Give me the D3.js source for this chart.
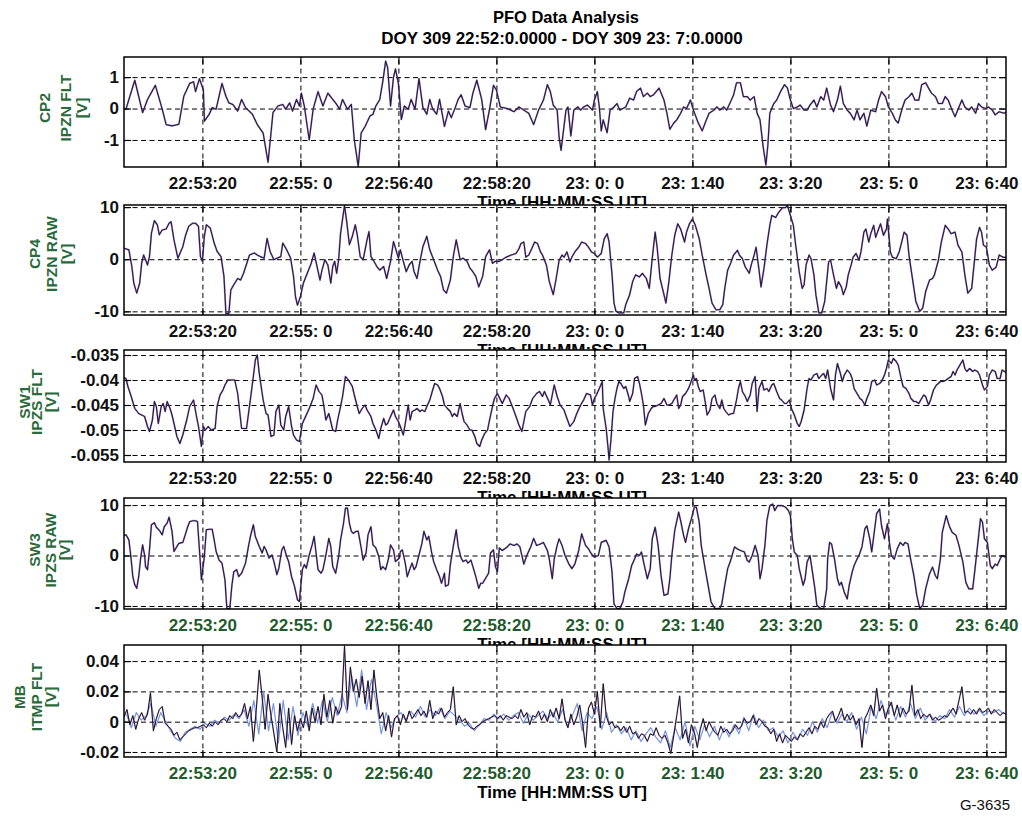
<!DOCTYPE html>
<html>
<head>
<meta charset="utf-8">
<title>PFO Data Analysis</title>
<script src="https://d3js.org/d3.v7.min.js"></script>
<style>
  html, body { margin: 0; padding: 0; background: #ffffff; }
  svg text { white-space: pre; }
</style>
</head>
<body>
<svg id="chart" width="1022" height="816"></svg>
<script>
// ---- time axis (seconds after 22:52:00) ----
const tickSeconds = [80, 180, 280, 380, 480, 580, 680, 780, 880];
const tickLabels = ["22:53:20", "22:55: 0", "22:56:40", "22:58:20", "23: 0: 0", "23: 1:40", "23: 3:20", "23: 5: 0", "23: 6:40"];

// ---- y tick values per panel ----
const cp2Ticks = [1, 0, -1];
const cp4Ticks = [10, 0, -10];
const sw1Ticks = [-0.035, -0.04, -0.045, -0.05, -0.055];
const sw3Ticks = [10, 0, -10];
const mbTicks = [0.04, 0.02, 0, -0.02];

// ---- CP2 IPZN FLT [V] ----
const cp2Seconds = [0,2,11,19,24,32,39,43,49,56,61,67,71,73,77,81,82,87,90,94,
100,104,107,111,116,120,124,131,136,142,147,150,152,157,162,165,169,172,176,179,
181,184,189,193,198,203,208,213,217,220,223,228,232,235,239,242,246,251,254,257,
261,264,267,269,272,275,277,280,283,286,290,293,297,301,305,309,312,315,319,322,
327,331,334,338,341,344,348,353,356,360,365,369,373,377,380,
384,391,398,403,408,413,418,423,428,432,435,438,442,444,446,449,451,453,456,459,
463,466,469,473,478,480,483,485,487,489,493,496,500,503,506,512,516,520,523,527,
530,534,537,540,546,551,554,557,561,564,568,571,574,578,581,586,590,593,597,602,
605,608,612,615,619,622,625,629,632,636,639,643,646,649,652,655,657,659,663,666,
670,674,677,680,683,687,690,694,697,700,704,707,711,714,717,721,724,728,731,734,
738,741,745,748,751,755,758,762,767,770,773,777,780,784,787,790,794,797,801,804,
807,811,814,818,821,824,828,831,835,838,841,845,848,852,855,858,862,865,869,872,
875,879,882,886,889,893,898,900];
const cp2Volts = [0,-0.02,0.90,-0.13,0.29,0.74,-0.02,-0.51,-0.55,-0.50,0.39,0.80,0.85,0.54,0.95,0.59,-0.40,-0.18,0.03,-0.02,
0.80,0.39,0.18,0.13,-0.08,0.29,0.03,-0.18,-0.51,-0.78,-1.71,-0.78,-0.13,0.08,0.13,-0.02,0.18,-0.08,0.29,0.08,
0.49,0.08,-1.00,-0.02,0.54,0.08,0.49,0.29,0.13,-0.02,0.29,-0.02,0.13,-1.00,-1.84,-0.78,-0.57,-0.24,-0.18,0.08,
0.29,0.85,1.51,1.31,0.08,1.00,1.26,0.80,-0.35,0.08,-0.02,0.29,-0.02,0.95,0.03,-0.18,0.29,-0.02,-0.18,0.29,
-0.57,-0.08,-0.29,0.03,0.29,0.44,0.08,0.03,0.49,0.90,0.29,-0.67,-0.02,0.74,0.59,
0.05,0,-0.10,0.05,-0.05,-0.15,-0.51,-0.05,0.27,0.76,0.54,0.11,-0.05,-0.92,-1.33,-0.56,-0.05,0.05,-0.87,-0.05,
0.05,-0.05,0.05,0.11,-0.05,0.27,0.54,0.05,-0.71,-0.36,-0.77,-0.05,0.05,0.16,-0.05,0.05,0.33,0.27,0.54,0.65,
0.38,0.49,0.38,0.43,0.65,0.27,-0.15,-0.66,-0.46,-0.36,-0.15,0.05,0,0.27,-0.05,-0.46,-0.71,-0.46,-0.15,-0.05,
0.05,-0.05,0.05,-0.05,0.22,0.43,0.82,0.82,0.38,0.38,0.27,0.38,-0.15,-0.36,-1.17,-1.80,-1.17,-0.15,0.16,0.27,
0.54,0.76,0.65,0.27,0,0.05,0.11,-0.05,-0.05,0.11,0.27,0.05,0.38,0.27,0.65,0.11,-0.10,0.27,0.71,0.16,
-0.05,-0.15,-0.36,-0.05,-0.36,-0.15,-0.56,-0.05,-0.10,0.27,0.54,0.38,0.05,-0.15,-0.36,-0.46,0,0.27,0.38,0.49,
0.27,0.27,0.76,0.82,0.65,0.49,0.38,0.16,0.16,0.38,0.27,-0.05,-0.26,0.05,0.27,0.05,-0.05,0.05,-0.15,0.16,
0.05,0,0.05,-0.05,-0.20,-0.10,-0.15,-0.12];

// ---- CP4 IPZN RAW [V] ----
const cp4Seconds = [0,5,8,10,13,16,18,20,22,24,26,28,31,34,36,39,43,46,48,51,
55,60,63,66,70,73,76,78,80,82,84,86,88,92,95,99,102,104,107,109,
112,116,119,122,126,128,133,136,139,143,146,149,153,156,160,162,166,170,173,175,
177,180,183,187,191,194,197,200,202,205,208,211,213,215,217,219,221,225,227,230,
233,236,238,241,244,248,250,252,255,258,261,265,268,272,275,278,280,282,285,288,
291,294,296,299,302,305,309,312,316,320,323,326,329,333,336,339,343,346,350,353,
356,359,362,366,369,373,376,379,383,
385,390,395,400,403,405,408,410,413,416,419,422,425,427,431,434,438,441,444,447,
449,452,455,457,460,464,467,471,474,477,480,483,487,490,493,495,498,500,502,505,
510,512,516,519,522,526,529,533,536,539,542,544,547,551,553,556,559,562,565,568,
572,574,577,580,583,587,590,594,597,600,604,608,611,613,616,619,622,626,628,631,
634,638,640,643,645,648,650,653,656,659,661,665,668,672,675,677,680,683,685,689,
692,694,696,699,701,704,706,709,712,715,717,719,721,724,727,729,732,734,737,739,
742,744,747,750,752,755,757,760,762,765,767,770,772,775,778,779,782,784,788,791,
794,796,799,801,805,808,812,815,818,822,825,827,831,834,838,841,844,848,851,855,
858,861,865,867,870,873,875,877,880,883,886,890,893,897,900];
const cp4Volts = [2.1,1.8,-1.4,-4.6,-6.5,-4.6,-0.8,0.8,-0.1,-1.1,0.5,5.0,7.4,6.6,4.7,5.6,5.8,6.9,7.2,3.7,
0.2,2.4,4.7,6.3,6.9,6.9,6.3,0.5,-0.4,4.4,6.6,6.3,6.0,3.1,1.5,0.5,-3.3,-10.4,-10.4,-5.9,
-4.9,-3.7,-4.0,-2.7,-0.4,0.8,1.2,0.8,0.5,0.2,4.0,1.5,-0.1,0.2,0.5,3.1,1.8,0.2,-3.3,-7.2,
-8.8,-7.2,-4.6,-2.7,-0.8,1.2,-1.4,-4.0,-2.1,-0.1,-1.1,-4.6,-1.4,-0.4,-2.7,-0.1,5.0,10.3,7.6,2.8,
4.4,6.6,4.7,0.5,-0.1,3.7,5.3,0.5,-0.4,-1.4,-2.1,-1.4,-3.7,-0.4,3.4,1.5,0.2,1.8,-0.4,-2.4,
-1.1,-0.4,-2.4,-3.7,-0.4,2.4,4.4,1.8,-0.1,-2.1,-3.3,-5.9,-6.5,-4.0,0.5,3.7,-0.1,0.2,-0.4,-1.7,
-2.4,-3.3,-5.3,-3.3,0.5,1.8,-0.8,-0.4,-0.4,
-0.2,0.4,0.8,1.1,2.0,3.0,3.3,0.4,0.8,2.0,3.3,3.0,1.4,0.8,-1.1,-4.3,-6.8,-3.7,-0.2,0.8,
0.4,1.4,-0.5,0.4,1.4,2.3,3.3,3.0,2.3,1.4,1.1,0.4,1.1,3.9,4.9,3.3,-3.0,-8.4,-10.0,-10.3,
-10.3,-8.7,-6.8,-4.3,-3.0,-3.4,-2.7,-3.7,-5.6,0.1,5.2,2.3,-3.7,-6.8,-8.4,-4.3,0.8,4.6,6.8,5.8,
3.3,5.2,6.8,7.7,6.5,3.9,0.8,-3.0,-5.6,-8.4,-9.7,-9.7,-8.7,-5.6,-2.1,-0.8,0.8,1.7,0.8,0.1,
-1.5,-2.7,-1.1,0.8,2.3,-2.1,-5.3,-1.8,2.7,6.5,8.4,8.0,9.0,9.9,9.9,10.3,8.4,6.5,3.3,-2.4,
-5.6,-4.9,-1.1,0.8,0.1,-3.0,-6.8,-10.3,-10.3,-8.1,-4.3,-0.5,-0.2,-3.0,-5.6,-4.3,-5.3,-6.8,-5.3,-3.0,
-1.1,0.4,1.1,-0.2,1.4,5.2,5.8,3.3,4.9,6.5,4.2,5.8,6.8,4.6,5.8,7.7,1.4,0.4,0.1,1.4,
3.6,5.2,4.6,0.8,-4.3,-8.1,-10.0,-9.4,-6.2,-4.0,-3.7,-3.0,-0.2,3.3,6.5,5.8,4.9,5.2,2.7,1.4,
-3.0,-6.5,-5.6,-1.8,3.9,6.1,5.2,2.7,2.3,-1.1,-2.1,-1.5,0.8,0.4,0.3];

// ---- SW1 IPZS FLT [V] ----
const sw1Seconds = [0,2,4,8,11,15,18,21,24,26,29,31,33,35,38,40,42,44,47,49,51,
54,57,60,64,67,71,74,76,79,81,83,86,89,93,95,98,101,103,106,109,
113,116,120,125,128,132,134,136,138,142,145,147,150,153,155,158,160,163,165,168,
171,173,176,179,182,186,189,193,196,199,202,204,206,209,213,216,218,221,223,226,
229,233,235,238,240,243,246,248,252,254,257,260,262,265,267,269,272,275,277,280,
282,285,287,290,292,294,297,299,302,304,307,309,312,315,317,320,322,325,327,330,
333,335,337,340,343,345,347,350,353,355,358,360,363,365,368,371,373,376,378,381,
386,390,393,397,400,403,406,408,410,414,417,421,424,427,429,433,435,437,439,442,
445,449,452,455,459,462,466,469,472,476,478,480,482,485,488,489,492,494,495,497,
499,501,503,505,507,510,512,515,516,519,521,524,526,528,530,532,535,538,540,542,
545,548,551,554,556,559,561,564,566,568,570,573,576,578,581,582,584,586,588,591,
593,595,598,600,603,605,608,610,612,614,617,620,622,625,627,629,631,634,636,639,
641,644,646,648,651,653,656,658,661,663,666,669,671,674,676,679,681,684,687,689,
691,694,697,699,701,704,707,709,712,714,716,718,721,724,726,728,731,733,735,738,
741,743,745,748,751,753,756,758,761,763,766,768,771,773,776,778,780,783,785,788,
790,793,795,798,801,803,806,808,811,813,816,818,821,823,826,829,831,833,836,839,
841,844,846,848,850,853,856,858,860,863,866,868,871,873,876,878,881,883,886,889,
891,894,896,900];
const sw1Volts = [-0.0395,
-0.0397,-0.0413,-0.0437,-0.0457,-0.0467,-0.0470,-0.0473,-0.0493,-0.0503,-0.0480,
-0.0443,-0.0453,-0.0487,-0.0453,-0.0447,-0.0463,-0.0443,-0.0457,-0.0470,-0.0487,
-0.0513,-0.0527,-0.0510,-0.0480,-0.0453,-0.0440,-0.0473,-0.0493,-0.0533,-0.0493,
-0.0500,-0.0493,-0.0500,-0.0497,-0.0453,-0.0430,-0.0420,-0.0410,-0.0400,-0.0400,
-0.0400,-0.0427,-0.0497,-0.0497,-0.0453,-0.0393,-0.0360,-0.0350,-0.0387,-0.0440,
-0.0467,-0.0470,-0.0513,-0.0510,-0.0463,-0.0450,-0.0490,-0.0500,-0.0473,-0.0453,
-0.0493,-0.0510,-0.0520,-0.0523,-0.0487,-0.0470,-0.0457,-0.0437,-0.0410,-0.0423,
-0.0430,-0.0453,-0.0480,-0.0467,-0.0500,-0.0503,-0.0480,-0.0453,-0.0433,-0.0393,
-0.0400,-0.0413,-0.0430,-0.0453,-0.0467,-0.0457,-0.0450,-0.0460,-0.0473,-0.0487,
-0.0500,-0.0517,-0.0497,-0.0477,-0.0490,-0.0487,-0.0473,-0.0460,-0.0473,-0.0483,
-0.0493,-0.0510,-0.0487,-0.0450,-0.0480,-0.0463,-0.0460,-0.0457,-0.0463,-0.0460,
-0.0463,-0.0453,-0.0440,-0.0420,-0.0407,-0.0410,-0.0417,-0.0433,-0.0450,-0.0457,
-0.0463,-0.0473,-0.0467,-0.0473,-0.0447,-0.0467,-0.0483,-0.0490,-0.0500,-0.0500,
-0.0513,-0.0527,-0.0533,-0.0520,-0.0507,-0.0500,-0.0480,-0.0453,-0.0437,-0.0427,
-0.0447,-0.0430,-0.0437,-0.0457,-0.0473,-0.0490,-0.0503,-0.0483,-0.0463,-0.0453,
-0.0437,-0.0427,-0.0423,-0.0433,-0.0423,-0.0440,-0.0450,-0.0430,-0.0410,-0.0433,
-0.0450,-0.0460,-0.0477,-0.0493,-0.0483,-0.0467,-0.0450,-0.0440,-0.0427,-0.0430,
-0.0450,-0.0437,-0.0430,-0.0417,-0.0403,-0.0457,-0.0497,-0.0537,-0.0560,-0.0517,
-0.0463,-0.0437,-0.0417,-0.0403,-0.0407,-0.0417,-0.0413,-0.0433,-0.0443,-0.0427,
-0.0397,-0.0393,-0.0407,-0.0427,-0.0450,-0.0490,-0.0467,-0.0457,-0.0453,-0.0453,
-0.0450,-0.0447,-0.0437,-0.0450,-0.0450,-0.0447,-0.0440,-0.0430,-0.0457,-0.0450,
-0.0433,-0.0427,-0.0417,-0.0407,-0.0390,-0.0400,-0.0397,-0.0413,-0.0423,-0.0420,
-0.0443,-0.0470,-0.0460,-0.0437,-0.0430,-0.0447,-0.0457,-0.0440,-0.0457,-0.0463,
-0.0470,-0.0467,-0.0467,-0.0440,-0.0417,-0.0403,-0.0423,-0.0433,-0.0443,-0.0430,
-0.0407,-0.0393,-0.0463,-0.0417,-0.0403,-0.0420,-0.0417,-0.0423,-0.0410,-0.0407,
-0.0423,-0.0437,-0.0440,-0.0447,-0.0447,-0.0440,-0.0457,-0.0470,-0.0487,-0.0493,
-0.0483,-0.0460,-0.0417,-0.0397,-0.0400,-0.0390,-0.0387,-0.0397,-0.0390,-0.0387,
-0.0397,-0.0380,-0.0417,-0.0440,-0.0390,-0.0367,-0.0387,-0.0403,-0.0390,-0.0380,
-0.0387,-0.0397,-0.0417,-0.0427,-0.0437,-0.0440,-0.0450,-0.0437,-0.0423,-0.0403,
-0.0400,-0.0410,-0.0407,-0.0403,-0.0390,-0.0377,-0.0360,-0.0367,-0.0357,-0.0363,
-0.0370,-0.0397,-0.0413,-0.0417,-0.0427,-0.0437,-0.0443,-0.0443,-0.0447,-0.0440,
-0.0430,-0.0433,-0.0450,-0.0440,-0.0420,-0.0410,-0.0407,-0.0403,-0.0403,-0.0400,
-0.0397,-0.0393,-0.0383,-0.0390,-0.0380,-0.0370,-0.0360,-0.0377,-0.0383,-0.0377,
-0.0383,-0.0380,-0.0383,-0.0390,-0.0410,-0.0420,-0.0413,-0.0390,-0.0380,-0.0383,
-0.0397,-0.0397,-0.0380,-0.0385];

// ---- SW3 IPZS RAW [V] ----
const sw3Seconds = [0,2,5,7,9,11,13,15,17,19,21,22,24,26,28,31,33,36,39,41,
44,46,49,51,54,56,60,62,65,67,70,73,75,77,79,82,84,87,90,92,
94,97,100,103,105,108,110,112,115,117,120,124,127,129,132,134,138,141,143,145,
148,151,153,156,158,161,163,166,168,171,174,177,179,180,182,184,186,189,192,194,
196,198,201,203,206,209,211,213,216,219,221,224,226,228,230,232,234,237,239,242,
244,247,249,252,254,257,260,262,264,267,270,272,275,277,281,282,284,287,289,292,
294,296,298,301,304,306,309,311,314,316,319,322,324,327,328,331,333,336,339,341,
344,346,349,351,354,356,359,362,364,366,369,372,374,377,379,381,383,
386,391,394,398,401,404,408,411,415,418,421,425,428,432,434,437,439,442,444,447,
450,454,457,460,464,467,471,474,477,480,484,487,492,495,498,500,503,506,509,511,
515,518,521,523,526,528,531,534,537,539,542,545,548,551,555,557,559,562,566,568,
571,573,576,579,582,584,587,589,593,596,599,603,608,610,613,616,619,623,626,629,
633,636,638,641,644,647,649,651,654,656,659,662,664,667,671,675,678,680,682,684,
687,689,693,695,697,700,702,705,707,711,714,717,718,720,722,725,728,730,732,735,
738,740,743,745,748,750,753,756,758,761,763,766,768,771,773,776,779,781,783,786,
789,792,795,797,800,802,806,809,812,815,818,822,825,828,830,833,835,839,842,845,
849,852,856,859,862,866,868,871,874,876,878,881,884,886,889,891,894,896,899];
const sw3Volts = [4.0,4.1,3.1,-0.2,-4.2,-5.8,-6.5,-4.2,-0.5,2.1,0.1,-2.2,-2.8,1.1,6.1,6.5,5.6,5.0,4.1,5.7,
6.4,7.6,4.8,0.8,1.8,2.4,2.6,3.8,5.7,6.7,6.9,6.9,6.7,1.1,-4.8,-0.2,5.1,5.2,5.2,3.1,
0.8,-0.9,-1.5,-4.8,-10.5,-10.5,-6.1,-3.2,-2.8,-4.2,-3.5,-1.5,1.8,3.8,6.1,3.8,1.8,0.5,1.8,1.1,
-0.5,0.1,-1.2,-3.8,-2.5,1.1,1.8,-0.2,-1.2,-4.2,-6.1,-8.8,-9.1,-6.8,-2.8,-1.8,-2.5,0.1,2.1,3.8,
0.5,-2.8,-3.5,-2.8,0.1,3.4,1.8,-2.2,-3.5,-0.2,3.1,6.4,9.4,9.4,6.4,4.8,4.4,4.8,4.8,1.5,
-0.9,0.5,4.1,5.7,2.1,1.5,-0.2,-2.8,-2.2,-2.8,-0.5,2.1,1.1,-1.2,-0.5,0.8,1.1,-1.5,-4.2,-2.5,
-1.5,-2.8,-2.2,0.1,2.4,4.8,3.1,3.8,0.5,-1.2,-2.8,-4.2,-5.5,-3.5,-6.1,-5.8,-1.8,1.8,5.1,1.8,
-0.5,-1.2,-0.9,-1.5,-0.9,-2.2,-4.2,-6.5,-5.5,-5.5,-4.5,-3.5,0.5,1.1,-2.2,-3.2,1.5,
1.0,1.7,2.3,2.0,2.3,1.7,-1.7,0,1.7,3.4,2.0,2.3,2.6,1.0,-0.7,-4.6,-0.7,2.0,3.3,2.0,
0,-1.7,-2.6,-1.7,1.0,4.3,2.0,1.3,0.3,-0.3,0,2.6,3.0,1.7,-3.3,-9.6,-10.5,-10.5,-9.2,-7.3,
-4.6,-2.0,-0.7,0.3,0,0.7,-2.0,-4.6,-2.6,3.3,5.6,2.0,-4.0,-7.9,-7.6,-4.6,0,5.0,8.6,6.9,
4.0,2.6,5.3,7.3,9.6,9.6,6.6,2.0,-2.6,-5.9,-9.2,-10.5,-10.5,-9.6,-5.9,-2.6,-1.0,1.7,1.3,1.0,
0.7,-1.0,-1.3,0,2.0,0,-4.6,-2.6,2.0,6.9,9.9,10.2,8.9,9.9,9.9,9.6,8.9,7.9,3.3,0.7,
0,-2.6,-5.9,-4.6,-1.3,0,-2.6,-6.6,-9.9,-10.5,-10.5,-6.6,-0.7,2.6,2.3,-0.7,-4.6,-5.9,-5.3,-7.3,
-8.6,-5.9,-3.3,-2.0,-0.7,0,1.7,5.3,5.9,3.3,0.7,5.3,8.3,9.2,5.9,3.3,6.3,2.6,0,-0.7,
1.3,2.6,2.0,2.6,2.3,0,-4.0,-7.9,-10.5,-9.9,-6.6,-3.6,-2.3,-4.0,-4.6,-0.7,4.6,7.9,5.9,4.6,
4.0,2.0,-1.3,-5.3,-6.6,-6.6,-3.3,2.0,7.3,6.6,3.3,2.6,-2.0,-2.6,-1.7,-2.0,-0.7,0,-0.3];

// ---- MB ITMP FLT [V]: two interleaved sample streams ----
const mbBlackStep = 3;          // seconds between samples, starting at 0 s
const mbBlackVolts = [0.003,0.008,-0.002,0.004,-0.005,0.002,0.006,0.001,0.005,0.019,
-0.006,0.002,0.008,0.010,-0.001,-0.003,-0.005,-0.009,-0.007,-0.012,
-0.010,-0.008,-0.006,-0.005,-0.004,-0.004,-0.003,-0.002,-0.004,-0.001,
-0.003,0.000,-0.002,0.001,0.002,0.000,0.004,0.002,0.006,0.003,
0.005,0.012,0.002,0.010,-0.013,0.008,0.034,0.016,-0.005,0.018,
0.004,-0.008,-0.020,0.012,-0.004,-0.017,0.009,-0.015,0.004,-0.006,
0.002,-0.004,0.007,-0.006,0.009,0.000,0.010,-0.002,0.018,0.003,
0.014,-0.001,0.010,0.005,0.010,0.050,0.008,0.036,0.020,0.028,
0.016,0.030,0.012,0.027,0.008,0.034,0.016,0.002,0.006,-0.006,
0.004,-0.010,0.002,0.004,-0.002,0.005,0.000,0.007,0.002,0.005,
0.008,0.004,0.007,0.003,0.014,0.002,0.007,0.005,0.009,0.003,
0.006,0.008,0.023,-0.002,0.004,0.000,0.002,-0.002,-0.004,-0.005,
-0.003,-0.002,0.000,0.001,0.002,0.003,0.004,0.002,0.004,0.001,
0.004,0.003,0.002,0.004,0.002,0.008,0.003,0.006,-0.002,0.004,
0.003,0.007,0.001,0.005,0.000,0.008,0.003,0.009,0.002,0.015,
0.001,-0.004,0.005,-0.002,0.003,0.011,-0.001,-0.017,0.009,0.013,
0.005,0.020,-0.004,0.025,0.004,-0.002,0.000,-0.004,-0.003,-0.006,
-0.003,-0.007,-0.003,-0.008,-0.007,-0.011,-0.008,-0.009,-0.013,-0.008,
-0.009,-0.004,-0.009,-0.011,-0.009,-0.014,-0.021,-0.009,0.004,0.017,
-0.011,-0.005,-0.014,-0.002,-0.007,-0.017,-0.005,0.002,-0.006,0.000,
-0.004,-0.007,-0.009,-0.003,-0.007,-0.005,-0.008,-0.006,-0.002,-0.005,
-0.003,0.002,-0.001,0.000,0.004,-0.002,0.002,0.000,-0.003,-0.004,
-0.008,-0.005,-0.013,-0.008,-0.014,-0.009,-0.011,-0.013,-0.010,-0.012,
-0.008,-0.010,-0.007,-0.004,-0.008,-0.003,-0.005,0.000,-0.004,0.002,
0.005,0.007,0.000,0.004,0.009,0.001,0.005,0.001,0.004,-0.002,
0.002,-0.017,0.002,0.006,0.011,0.004,0.022,0.007,0.011,0.002,
0.009,0.013,0.004,0.011,0.003,0.009,0.005,0.007,0.024,0.004,
0.008,0.002,0.005,0.003,0.005,0.001,0.003,0.001,0.002,0.004,
0.003,0.006,0.009,0.005,0.014,0.023,0.006,0.007,0.005,0.008,
0.005,0.009,0.006,0.007,0.009,0.005,0.008,0.006,0.004,0.006,
0.005];
const mbBlueStep = 5;           // seconds between samples, starting at 2.5 s
const mbBlueVolts = [0.005,-0.004,0.006,0.001,0.004,0.012,-0.003,0.006,0.000,-0.006,
-0.011,-0.013,-0.007,-0.005,-0.003,-0.005,-0.001,-0.003,0.001,-0.001,
0.003,0.001,0.005,0.002,0.008,-0.003,0.014,-0.008,0.020,-0.006,
0.012,-0.014,0.014,-0.012,0.010,-0.009,0.006,-0.003,0.012,-0.001,
0.014,0.000,0.016,0.004,0.018,0.006,0.030,0.010,0.034,0.008,
0.028,0.012,-0.008,0.006,-0.004,0.003,0.006,0.001,0.007,0.003,
0.010,0.003,0.008,0.004,0.009,0.002,0.007,0.004,0.001,-0.003,
-0.001,-0.006,-0.002,0.002,0.001,0.005,0.002,0.005,0.001,0.004,
0.006,-0.001,0.005,0.001,0.004,0.007,0.002,0.006,0.000,0.008,
-0.003,0.004,0.012,-0.006,0.006,0.002,0.010,-0.005,0.006,-0.007,
-0.002,-0.008,-0.004,-0.012,-0.006,-0.013,-0.008,-0.004,-0.010,-0.014,
-0.006,-0.017,-0.004,-0.012,0.000,-0.016,-0.003,-0.012,-0.002,-0.010,
-0.003,-0.012,-0.004,-0.010,-0.002,-0.008,0.003,-0.006,0.005,-0.004,
0.001,-0.006,-0.004,-0.010,-0.006,-0.014,-0.007,-0.012,-0.005,-0.009,
0.000,-0.007,0.002,-0.004,0.006,-0.001,0.005,0.000,0.006,-0.005,
0.003,-0.008,0.010,0.002,0.014,0.004,0.012,0.001,0.010,0.003,
0.012,0.002,0.009,0.001,0.005,0.000,0.004,0.002,0.008,0.003,
0.010,0.004,0.009,0.005,0.008,0.004,0.007,0.006,0.008,0.005];

// ---- drawing ----
const FONT = '"Liberation Sans", Arial, Helvetica, sans-serif';
const svg = d3.select("#chart");
const plotLeft = 124, plotRight = 1006;
const x = d3.scaleLinear().domain([0, 900]).range([plotLeft, plotRight]);
const pairs = (secs, vals) => secs.map((t, i) => [t, vals[i]]);

const mbBlackSeconds = mbBlackVolts.map((_, i) => i * mbBlackStep);
const mbBlueSeconds = mbBlueVolts.map((_, i) => 2.5 + i * mbBlueStep);

// magenta halo under a dark navy trace
const rawStyle = [
  { color: "#a64ea6", width: 1.9, opacity: 0.55 },
  { color: "#1e1e46", width: 1.15, opacity: 1 }
];

const panels = [
  { id: "cp2", top: 57, bottom: 167, domain: [-1.86, 1.64], ticks: cp2Ticks,
    title: ["CP2", "IPZN FLT", "[V]"], titleX: [50, 71, 87], titleY: 108, tickColor: "#111",
    traces: [{ data: pairs(cp2Seconds, cp2Volts), styles: rawStyle }] },
  { id: "cp4", top: 205, bottom: 315, domain: [-10.7, 10.4], ticks: cp4Ticks,
    title: ["CP4", "IPZN RAW", "[V]"], titleX: [40, 57, 72], titleY: 254, tickColor: "#111",
    traces: [{ data: pairs(cp4Seconds, cp4Volts), styles: rawStyle }] },
  { id: "sw1", top: 350, bottom: 462, domain: [-0.0564, -0.034], ticks: sw1Ticks,
    title: ["SW1", "IPZS FLT", "[V]"], titleX: [30, 42, 56], titleY: 402, tickColor: "#111",
    traces: [{ data: pairs(sw1Seconds, sw1Volts), styles: rawStyle }] },
  { id: "sw3", top: 498, bottom: 609, domain: [-10.6, 11.4], ticks: sw3Ticks,
    title: ["SW3", "IPZS RAW", "[V]"], titleX: [40, 56, 70], titleY: 550, tickColor: "#1f5a2c",
    traces: [{ data: pairs(sw3Seconds, sw3Volts), styles: rawStyle }] },
  { id: "mb", top: 645, bottom: 757, domain: [-0.0233, 0.0506], ticks: mbTicks,
    title: ["MB", "ITMP FLT", "[V]"], titleX: [25, 42, 56], titleY: 697, tickColor: "#1f5a2c",
    traces: [
      { data: pairs(mbBlueSeconds, mbBlueVolts), styles: [{ color: "#6d8fe0", width: 1.2, opacity: 0.95 }] },
      { data: pairs(mbBlackSeconds, mbBlackVolts), styles: [{ color: "#a257a8", width: 1.6, opacity: 0.45 }, { color: "#141420", width: 1.0, opacity: 1 }] }
    ] }
];

// figure title
svg.append("text").attr("x", 566).attr("y", 23).attr("text-anchor", "middle")
  .attr("font-family", FONT).attr("font-size", 16.5).attr("font-weight", "bold").attr("fill", "#000")
  .text("PFO Data Analysis");
svg.append("text").attr("x", 562).attr("y", 44).attr("text-anchor", "middle")
  .attr("font-family", FONT).attr("font-size", 17).attr("font-weight", "bold").attr("fill", "#000")
  .text("DOY 309 22:52:0.0000 - DOY 309 23: 7:0.0000");

function styleAxisText(sel, color) {
  sel.attr("font-family", FONT).attr("font-size", 17).attr("font-weight", "bold");
  sel.selectAll("text").attr("fill", color);
  sel.select(".domain").remove();
  sel.selectAll(".tick line").attr("stroke", "#000").attr("stroke-width", 1.2);
}

panels.forEach(p => {
  const h = p.bottom - p.top, w = plotRight - plotLeft;
  const y = d3.scaleLinear().domain(p.domain).range([p.bottom, p.top]);
  const g = svg.append("g").attr("class", "panel-" + p.id);

  // plot background (also hides the lower part of the previous axis caption)
  g.append("rect").attr("x", plotLeft).attr("y", p.top).attr("width", w).attr("height", h).attr("fill", "#fff");

  const clipId = "clip-" + p.id;
  svg.append("defs").append("clipPath").attr("id", clipId)
    .append("rect").attr("x", plotLeft).attr("y", p.top).attr("width", w).attr("height", h);

  // dashed grid
  g.append("g").attr("transform", `translate(0,${p.bottom})`)
    .call(d3.axisBottom(x).tickValues(tickSeconds).tickSize(-h).tickFormat(""))
    .call(s => { s.select(".domain").remove(); s.selectAll("line").attr("stroke", "#000").attr("stroke-width", 1).attr("stroke-dasharray", "5,3.5"); });
  g.append("g").attr("transform", `translate(${plotLeft},0)`)
    .call(d3.axisLeft(y).tickValues(p.ticks).tickSize(-w).tickFormat(""))
    .call(s => { s.select(".domain").remove(); s.selectAll("line").attr("stroke", "#000").attr("stroke-width", 1).attr("stroke-dasharray", "5,3.5"); });

  // traces
  const line = d3.line().x(d => x(d[0])).y(d => y(d[1]));
  const traceG = g.append("g").attr("clip-path", `url(#${clipId})`);
  p.traces.forEach(tr => {
    tr.styles.forEach(st => {
      traceG.append("path").datum(tr.data).attr("d", line)
        .attr("fill", "none").attr("stroke", st.color).attr("stroke-width", st.width)
        .attr("stroke-opacity", st.opacity).attr("stroke-linejoin", "round");
    });
  });

  // frame
  g.append("rect").attr("x", plotLeft).attr("y", p.top).attr("width", w).attr("height", h)
    .attr("fill", "none").attr("stroke", "#000").attr("stroke-width", 1.5);

  // inward ticks and labels
  g.append("g").attr("transform", `translate(0,${p.bottom})`)
    .call(d3.axisBottom(x).tickValues(tickSeconds).tickSize(-7).tickPadding(10).tickFormat((d, i) => tickLabels[i]))
    .call(s => styleAxisText(s, p.tickColor));
  g.append("g").attr("transform", `translate(0,${p.top})`)
    .call(d3.axisTop(x).tickValues(tickSeconds).tickSize(-7).tickFormat(""))
    .call(s => styleAxisText(s, "#000"));
  g.append("g").attr("transform", `translate(${plotLeft},0)`)
    .call(d3.axisLeft(y).tickValues(p.ticks).tickSize(-7).tickPadding(5).tickFormat(d => String(d)))
    .call(s => styleAxisText(s, "#111"));
  g.append("g").attr("transform", `translate(${plotRight},0)`)
    .call(d3.axisRight(y).tickValues(p.ticks).tickSize(-7).tickFormat(""))
    .call(s => styleAxisText(s, "#000"));

  // x caption
  g.append("text").attr("x", 562).attr("y", p.bottom + 41).attr("text-anchor", "middle")
    .attr("font-family", FONT).attr("font-size", 17).attr("font-weight", "bold").attr("fill", "#000")
    .text("Time [HH:MM:SS UT]");

  // y caption (three stacked rotated lines)
  p.title.forEach((t, i) => {
    g.append("text")
      .attr("transform", `translate(${p.titleX[i]},${p.titleY}) rotate(-90)`)
      .attr("text-anchor", "middle")
      .attr("font-family", FONT).attr("font-size", 15.5).attr("font-weight", "bold")
      .attr("fill", "#2b6a3a")
      .text(t);
  });
});

// drawing number
svg.append("text").attr("x", 1010).attr("y", 810).attr("text-anchor", "end")
  .attr("font-family", FONT).attr("font-size", 15).attr("fill", "#111")
  .text("G-3635");
</script>
</body>
</html>
